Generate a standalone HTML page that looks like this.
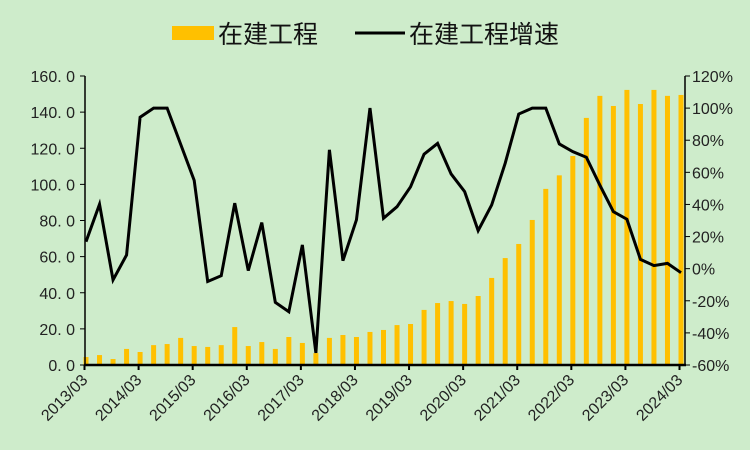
<!DOCTYPE html>
<html><head><meta charset="utf-8"><style>
body{margin:0;background:#ceeccb;}
svg{display:block;font-family:"Liberation Sans","Noto Sans CJK SC",sans-serif;}
</style></head><body>
<svg id="chart" width="750" height="450">
<rect width="750" height="450" fill="#ceeccb"/>
<g>
<rect x="172" y="26" width="42" height="14" fill="#ffc000"/>
<text x="218" y="43" font-size="25" fill="#111" font-family="Noto Sans CJK SC, sans-serif">在建工程</text>
<line x1="355" y1="33" x2="405" y2="33" stroke="#000" stroke-width="3"/>
<text x="409" y="43" font-size="25" fill="#111" font-family="Noto Sans CJK SC, sans-serif">在建工程增速</text>
</g>
<g id="plot"></g>
</svg>
<script>
const barValues=[4.4,5.5,3.3,8.9,7.2,11,11.6,15,10.5,10,11,21,10.5,12.7,8.9,15.5,12.2,6.6,15,16.6,15.5,18.3,19.4,22.1,22.7,30.5,34.3,35.4,33.8,38.2,48.2,59.2,67,80.3,97.5,105,115.7,136.8,149,143.4,152.3,144.5,152.3,149,149.5];
const growthValues=[16.8,40.1,-7,8.5,94.3,100,100,77.5,55,-8,-4.4,40.8,-1.2,28.7,-21,-26.8,14.8,-52.5,74,5,30.4,100,31.4,38.6,51,71.3,78,59,48,23.7,39.7,65.7,96.3,100,100,77.7,72.9,69.4,52,35.5,30.8,5.8,1.9,3.3,-2.5];
const xLabels=["2013/03","2014/03","2015/03","2016/03","2017/03","2018/03","2019/03","2020/03","2021/03","2022/03","2023/03","2024/03"];
const leftTicks=[0,20,40,60,80,100,120,140,160];
const rightTicks=[-60,-40,-20,0,20,40,60,80,100,120];

const NS="http://www.w3.org/2000/svg";
const g=document.getElementById('plot');
const X0=86,X1=681,YB=365,YT=76;
const n=barValues.length;
const xs=i=>X0+i*(X1-X0)/(n-1);
const yL=v=>YB-(v-0)/160*(YB-YT);
const yR=v=>YB-(v+60)/180*(YB-YT);
function mk(t,a){const e=document.createElementNS(NS,t);for(const k in a)e.setAttribute(k,a[k]);g.appendChild(e);return e;}
barValues.forEach((v,i)=>{
 const r=mk('rect',{x:xs(i)-2.5,y:yL(v),width:5,height:YB-yL(v),fill:'#ffc000'});
 
 
});
const p=mk('polyline',{points:growthValues.map((v,i)=>xs(i)+','+yR(v)).join(' '),fill:'none',stroke:'#000','stroke-width':3,'stroke-linejoin':'miter'});


const la=mk('line',{x1:85,y1:YT,x2:85,y2:YB+1,stroke:'#000','stroke-width':1.5});


const ra=mk('line',{x1:685,y1:YT,x2:685,y2:YB+1,stroke:'#000','stroke-width':1.5});


const xa=mk('line',{x1:84,y1:YB,x2:686,y2:YB,stroke:'#000','stroke-width':2.5});


leftTicks.forEach(v=>{
 mk('line',{x1:80,y1:yL(v),x2:85,y2:yL(v),stroke:'#000','stroke-width':1});
 const t=mk('text',{x:75,y:yL(v)+6,'text-anchor':'end','font-size':16,fill:'#222'});
 t.textContent=v.toFixed(1).replace('.','. ');
 
 
});
rightTicks.forEach(v=>{
 mk('line',{x1:685,y1:yR(v),x2:690,y2:yR(v),stroke:'#000','stroke-width':1});
 const t=mk('text',{x:692,y:yR(v)+6,'font-size':16,fill:'#222'});
 t.textContent=v+'%';
 
 
});
xLabels.forEach((s,k)=>{
 const x=xs(k*4)-1.5;
 mk('line',{x1:x,y1:YB,x2:x,y2:YB+5,stroke:'#000','stroke-width':2});
 const t=mk('text',{x:x+4,y:YB+16,'text-anchor':'end','font-size':16,fill:'#222',transform:`rotate(-45 ${x+4} ${YB+16})`});
 t.textContent=s;
 
 
});
</script>
</body></html>
